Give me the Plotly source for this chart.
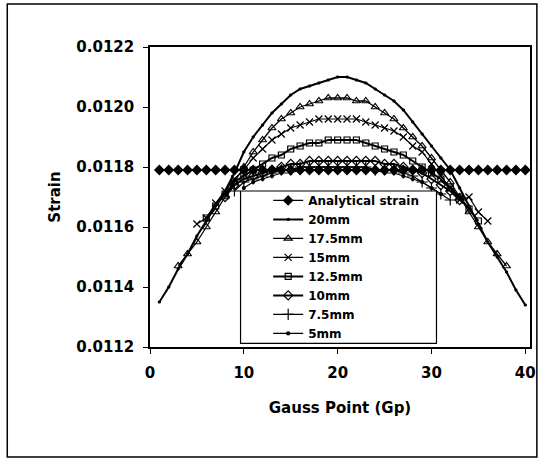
import plotly.graph_objects as go

# Gauss points per series
gp_analytical = list(range(1, 41))
gp_20 = list(range(1, 41))
gp_175 = list(range(3, 39))
gp_15 = list(range(5, 37))
gp_125 = list(range(6, 36))
gp_10 = list(range(8, 34))
gp_75 = list(range(9, 33))
gp_5 = list(range(10, 32))

analytical = [0.01179, 0.01179, 0.01179, 0.01179, 0.01179, 0.01179, 0.01179, 0.01179,
              0.01179, 0.01179, 0.01179, 0.01179, 0.01179, 0.01179, 0.01179, 0.01179,
              0.01179, 0.01179, 0.01179, 0.01179, 0.01179, 0.01179, 0.01179, 0.01179,
              0.01179, 0.01179, 0.01179, 0.01179, 0.01179, 0.01179, 0.01179, 0.01179,
              0.01179, 0.01179, 0.01179, 0.01179, 0.01179, 0.01179, 0.01179, 0.01179]

s20 = [0.01135, 0.01140, 0.01146, 0.01151, 0.01157, 0.01162, 0.01167, 0.01172,
       0.01178, 0.01185, 0.01190, 0.01194, 0.01198, 0.01201, 0.01204, 0.01206,
       0.01207, 0.01208, 0.01209, 0.01210, 0.01210, 0.01209, 0.01208, 0.01206,
       0.01204, 0.01202, 0.01199, 0.01195, 0.01191, 0.01187, 0.01183, 0.01179,
       0.01173, 0.01167, 0.01161, 0.01155, 0.01150, 0.01145, 0.01139, 0.01134]

s175 = [0.01147, 0.01151, 0.01155, 0.01160, 0.01165, 0.01170, 0.01175, 0.01180,
        0.01185, 0.01189, 0.01193, 0.01196, 0.01198, 0.01200, 0.01201, 0.01202,
        0.01203, 0.01203, 0.01203, 0.01202, 0.01202, 0.01200, 0.01198, 0.01196,
        0.01193, 0.01190, 0.01187, 0.01183, 0.01179, 0.01175, 0.01170, 0.01165,
        0.01160, 0.01155, 0.01151, 0.01147]

s15 = [0.01161, 0.01163, 0.01168, 0.01172, 0.01176, 0.01179, 0.01183, 0.01186,
       0.01189, 0.01191, 0.01193, 0.01194, 0.01195, 0.01196, 0.01196, 0.01196,
       0.01196, 0.01196, 0.01195, 0.01194, 0.01193, 0.01192, 0.01190, 0.01187,
       0.01185, 0.01181, 0.01177, 0.01173, 0.01169, 0.01170, 0.01165, 0.01162]

s125 = [0.01163, 0.01167, 0.01171, 0.01175, 0.01177, 0.01179, 0.01181, 0.01183,
        0.01184, 0.01186, 0.01187, 0.01188, 0.01188, 0.01189, 0.01189, 0.01189,
        0.01189, 0.01188, 0.01187, 0.01186, 0.01185, 0.01184, 0.01182, 0.01180,
        0.01178, 0.01176, 0.01173, 0.01170, 0.01166, 0.01162]

s10 = [0.01170, 0.01174, 0.01176, 0.01177, 0.01178, 0.01179, 0.01180, 0.01181,
       0.01181, 0.01182, 0.01182, 0.01182, 0.01182, 0.01182, 0.01182, 0.01182,
       0.01182, 0.01181, 0.01181, 0.01180, 0.01179, 0.01178, 0.01176, 0.01174,
       0.01172, 0.01169]

s75 = [0.01172, 0.01175, 0.01176, 0.01177, 0.01178, 0.01179, 0.01179, 0.01180,
       0.01180, 0.01180, 0.01180, 0.01180, 0.01180, 0.01180, 0.01180, 0.01179,
       0.01179, 0.01179, 0.01178, 0.01177, 0.01175, 0.01173, 0.01171, 0.01169]

s5 = [0.01173, 0.01175, 0.01176, 0.01177, 0.01178, 0.01178, 0.01179, 0.01179,
      0.01179, 0.01179, 0.01179, 0.01179, 0.01179, 0.01179, 0.01179, 0.01178,
      0.01178, 0.01177, 0.01176, 0.01175, 0.01173, 0.01171]

names = ["Analytical strain", "20mm", "17.5mm", "15mm", "12.5mm", "10mm", "7.5mm", "5mm"]
y_ticks = [0.0112, 0.0114, 0.0116, 0.0118, 0.0120, 0.0122]
x_ticks = [0, 10, 20, 30, 40]

series = [
    (gp_analytical, analytical, "diamond", 7, 1.2),
    (gp_20, s20, "circle", 2, 2.0),
    (gp_175, s175, "triangle-up-open", 7, 1.3),
    (gp_15, s15, "x-thin-open", 7, 1.2),
    (gp_125, s125, "square-open", 6, 2.0),
    (gp_10, s10, "diamond-open", 7, 2.0),
    (gp_75, s75, "cross-thin-open", 8, 1.3),
    (gp_5, s5, "circle", 3, 1.2),
]

fig = go.Figure()
for name, (xs, ys, sym, size, lw) in zip(names, series):
    fig.add_trace(go.Scatter(
        x=xs, y=ys, name=name, mode="lines+markers",
        line=dict(color="black", width=lw),
        marker=dict(symbol=sym, size=size, color="black",
                    line=dict(color="black", width=1.2)),
    ))

tick_font = dict(family="DejaVu Sans", size=15, color="black", weight="bold")
title_font = dict(family="DejaVu Sans", size=15, color="black", weight="bold")

fig.update_layout(
    width=548, height=464,
    margin=dict(l=150, r=12, t=47, b=117),
    paper_bgcolor="white", plot_bgcolor="white",
    showlegend=True,
    legend=dict(x=0.311, y=0.537, xanchor="left", yanchor="top",
                bgcolor="rgba(0,0,0,0)", borderwidth=0,
                font=dict(family="DejaVu Sans", size=12, color="black", weight="bold"),
                tracegroupgap=0, itemwidth=30),
    xaxis=dict(range=[0, 40.5], tickvals=x_ticks, ticktext=[str(v) for v in x_ticks],
               showgrid=False, zeroline=False, showline=True, linecolor="black",
               linewidth=1.5, mirror=True, ticks="outside", ticklen=5,
               ticklabelstandoff=6,
               tickcolor="black", tickfont=tick_font,
               title=dict(text="Gauss Point (Gp)", standoff=22, font=title_font)),
    yaxis=dict(range=[0.0112, 0.0122], tickvals=y_ticks,
               ticktext=["%.4f" % v for v in y_ticks],
               showgrid=False, zeroline=False, showline=True, linecolor="black",
               linewidth=1.5, mirror=True, ticks="outside", ticklen=5,
               ticklabelstandoff=6,
               tickcolor="black", tickfont=tick_font,
               title=dict(text="Strain", standoff=12, font=title_font)),
    shapes=[
        # legend box (opaque, covers curves)
        dict(type="rect", xref="paper", yref="paper",
             x0=0.2383, x1=0.7539, y0=0.012, y1=0.52,
             fillcolor="white", line=dict(color="black", width=1.2), layer="above"),
        # outer frame
        dict(type="rect", xref="paper", yref="paper",
             x0=-0.3756, x1=1.0181, y0=-0.3667, y1=1.1433,
             line=dict(color="black", width=1.5), layer="above"),
    ],
)

fig.write_html("out.html", config={"displayModeBar": False},
               post_script="document.body.style.margin='0';")
